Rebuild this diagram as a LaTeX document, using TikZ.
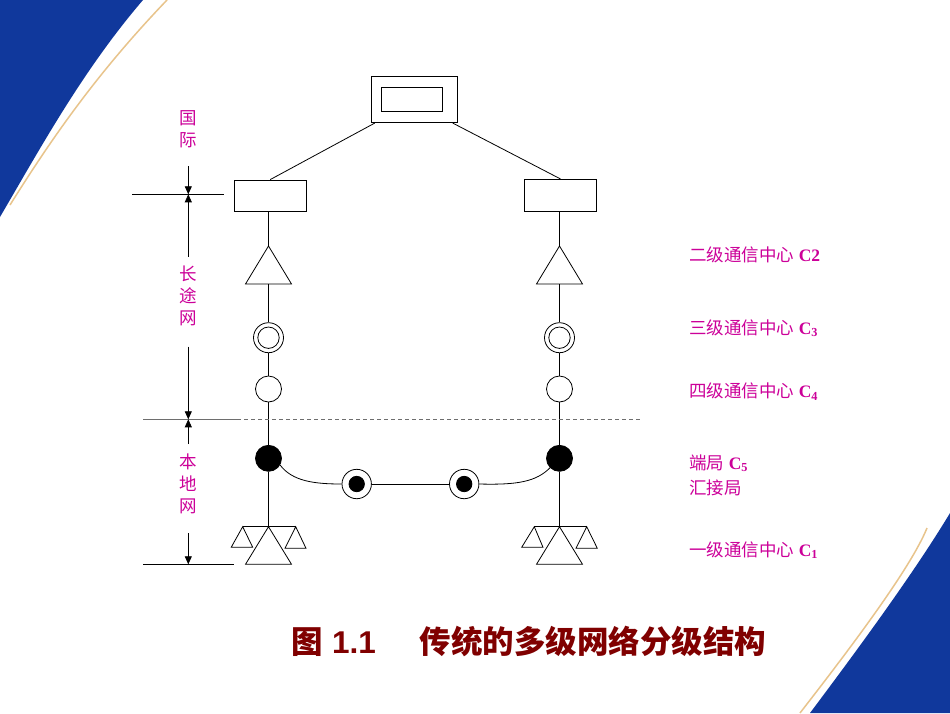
\documentclass[tikz,border=0pt]{standalone}
\usepackage{fontspec}
\setmainfont{Liberation Serif}
\newfontfamily\cjk{Noto Sans CJK SC}
\newfontfamily\arialf{Liberation Sans}
\usetikzlibrary{arrows.meta}
\definecolor{mag}{RGB}{204,0,153}
\definecolor{titlered}{RGB}{128,0,0}
\definecolor{slideblue}{RGB}{16,56,156}
\definecolor{gold}{RGB}{232,196,140}
\definecolor{dashgray}{RGB}{110,110,110}
\begin{document}
\begin{tikzpicture}[x=1pt,y=-1pt, line width=0.8pt,
  box/.style={draw, rectangle, inner sep=0pt},
  ring/.style={draw, circle, inner sep=0pt, fill=white},
  dot/.style={draw, circle, fill=black, inner sep=0pt},
  dimarrow/.style={-{Triangle[length=8pt,width=7pt]}},
  vlab/.style={text=mag, font=\cjk\fontsize{17.5}{22}\selectfont, align=center, inner sep=0pt},
  rlab/.style={text=mag, font=\fontsize{17.5}{22}\selectfont, anchor=west, inner sep=0pt},
]
\useasboundingbox (0,0) rectangle (950,713);
\fill[white] (0,0) rectangle (950,713);
% slide decoration
\fill[slideblue] (0,0) -- (143,0) .. controls (83,70) and (41,147) .. (0,217) -- cycle;
\draw[gold, line width=1.5pt] (167,0) .. controls (100,70) and (55,133) .. (10,205);
\fill[slideblue] (950,513) .. controls (914,573) and (855,653) .. (810,713) -- (950,713) -- cycle;
\draw[gold, line width=1.5pt] (927,528) .. controls (910,570) and (845,655) .. (800,713);

% boxes
\node[box, minimum width=85.6pt, minimum height=46.7pt] (top) at (414.5,99.3) {};
\node[box, minimum width=61pt, minimum height=24.4pt] (topin) at (412.2,99.5) {};
\node[box, minimum width=72pt, minimum height=31pt] (bL) at (270.2,195.5) {};
\node[box, minimum width=72.4pt, minimum height=31.7pt] (bR) at (560.5,195.2) {};
\draw ([xshift=3.5pt]top.south west) -- (bL.north);
\draw ([xshift=-5pt]top.south east) -- (bR.north);

% triangles (C2)
\coordinate (tLa) at (268.5,246);
\coordinate (tLb) at (268.5,284);
\coordinate (tRa) at (559.5,246);
\coordinate (tRb) at (559.5,284);
\draw (tLa) -- (291.5,284) -- (245.5,284) -- cycle;
\draw (tRa) -- (582.5,284) -- (536.5,284) -- cycle;
\draw (tLa |- bL.south) -- (tLa);
\draw (tRa |- bR.south) -- (tRa);

% circles
\node[ring, minimum size=30pt] (dL) at (268.5,337.7) {};
\node[draw, circle, inner sep=0pt, minimum size=21.4pt] (dLi) at (dL) {};
\node[ring, minimum size=30pt] (dR) at (559.5,337.7) {};
\node[draw, circle, inner sep=0pt, minimum size=21.4pt] (dRi) at (dR) {};
\node[ring, minimum size=26pt] (cL) at (268.5,389) {};
\node[ring, minimum size=26pt] (cR) at (559.5,389) {};
\node[dot, minimum size=26pt] (fL) at (268.5,458.3) {};
\node[dot, minimum size=26pt] (fR) at (559.5,458.3) {};
\node[ring, minimum size=29.4pt] (eL) at (356.7,484) {};
\node[dot, minimum size=15.4pt] (eLi) at (eL) {};
\node[ring, minimum size=29.4pt] (eR) at (464.2,484) {};
\node[dot, minimum size=15.4pt] (eRi) at (eR) {};

% vertical connectors
\draw (tLb) -- (dL.north);
\draw (tRb) -- (dR.north);
\draw (dL.south) -- (cL.north);
\draw (dR.south) -- (cR.north);
\draw (cL.south) -- (fL.north);
\draw (cR.south) -- (fR.north);
\coordinate (barL) at (268.5,526.7);
\coordinate (barR) at (559.5,526.7);
\draw (fL.south) -- (barL);
\draw (fR.south) -- (barR);

% local connections
\draw (fL.-30) .. controls +(12,16) and +(-28,0) .. (eL.west);
\draw (eL.east) -- (eR.west);
\draw (eR.east) .. controls +(38,1) and +(-14,14) .. (fR.-135);

% C1 groups
\draw (242.7,526.7) -- (295.7,526.7);
\draw (barL) -- (291.5,564.3) -- (245.5,564.3) -- cycle;
\draw (242.7,526.7) -- (252.7,547.3) -- (231.2,547.3) -- cycle;
\draw (295.7,526.7) -- (306,548.3) -- (285,548.3) -- cycle;
\draw (534.3,526.7) -- (586.7,526.7);
\draw (barR) -- (582.5,564.3) -- (536.5,564.3) -- cycle;
\draw (534.3,526.7) -- (543,547.3) -- (521.7,547.3) -- cycle;
\draw (586.7,526.7) -- (597.3,548.3) -- (576,548.3) -- cycle;

% dashed boundary
\coordinate (h2a) at (143,419.3);
\coordinate (h2m) at (237,419.3);
\coordinate (h2b) at (640,419.3);
\draw[dashgray] (h2a) -- (h2m);
\draw[dashgray, dash pattern=on 4pt off 3pt] (h2m) -- (h2b);

% dimension lines
\coordinate (h1a) at (132,194.3);
\coordinate (h1b) at (224.3,194.3);
\coordinate (h3a) at (143,564.3);
\coordinate (h3b) at (234.3,564.3);
\draw (h1a) -- (h1b);
\draw (h3a) -- (h3b);
\coordinate (h1) at (188.3,194.3);
\coordinate (h2) at (188.3,419.3);
\coordinate (h3) at (188.3,564.3);
\coordinate (a1) at (188.3,166);
\coordinate (a2) at (188.3,256.7);
\coordinate (a3) at (188.3,346.7);
\coordinate (a4) at (188.3,444);
\coordinate (a5) at (188.3,533.3);
\draw[dimarrow] (a1) -- (h1);
\draw[dimarrow] (a2) -- (h1);
\draw[dimarrow] (a3) -- (h2);
\draw[dimarrow] (a4) -- (h2);
\draw[dimarrow] (a5) -- (h3);

% left labels
\node[vlab] (gj) at (188.5,129) {国\\际};
\node[vlab] (ctw) at (188.3,296) {长\\途\\网};
\node[vlab] (bdw) at (188.3,483.5) {本\\地\\网};

% right labels
\node[rlab] (l2) at (689,255) {{\cjk 二级通信中心} \textbf{C2}};
\node[rlab] (l3) at (689,328.3) {{\cjk 三级通信中心} \textbf{C\textsubscript{3}}};
\node[rlab] (l4) at (689,391.7) {{\cjk 四级通信中心} \textbf{C\textsubscript{4}}};
\node[rlab] (l5) at (689,463.3) {{\cjk 端局} \textbf{C\textsubscript{5}}};
\node[rlab] (l5b) at (689,488.3) {{\cjk 汇接局}};
\node[rlab] (l1) at (689,550) {{\cjk 一级通信中心} \textbf{C\textsubscript{1}}};

% title
\node[anchor=west, text=titlered, inner sep=0pt, font=\cjk\bfseries\fontsize{31.5}{38}\selectfont] (title) at (291.5,641.7) {图{\arialf\bfseries\ 1.1}\hspace{44pt}传统的多级网络分级结构};
\end{tikzpicture}
\end{document}
